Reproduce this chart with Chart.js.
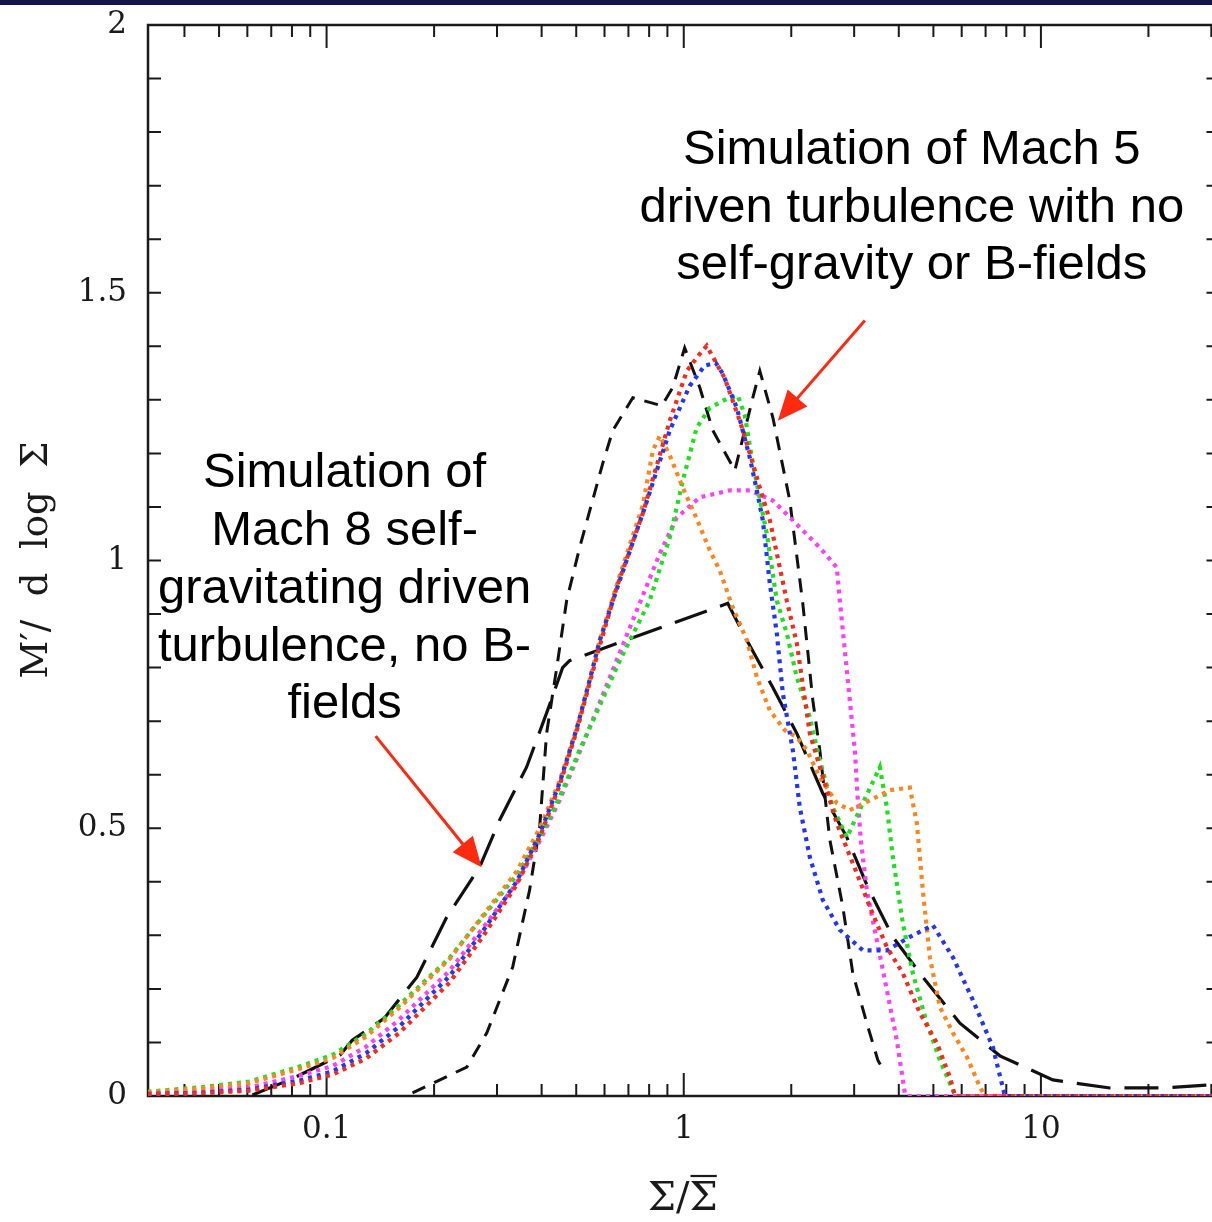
<!DOCTYPE html>
<html>
<head>
<meta charset="utf-8">
<script src="https://cdn.jsdelivr.net/npm/chart.js@4/dist/chart.umd.min.js"></script>
<style>
  html, body { margin: 0; padding: 0; background: #fff; overflow: hidden; }
  #band { position: absolute; left: 0; top: 0; width: 100%; height: 5px; background: #13164d; z-index: 2; }
  #sigma_chart { position: absolute; left: 0; top: 0; }
</style>
</head>
<body>
<div id="band"></div>
<canvas id="sigma_chart" width="1240" height="1222"></canvas>
<script>
// column density PDFs, x = Sigma / mean Sigma, y = M' / d log Sigma
const m8_sigma = [0.062, 0.080, 0.109, 0.118, 0.145, 0.179, 0.217, 0.268, 0.305, 0.363, 0.413, 0.458, 0.479, 1.328, 1.502, 1.776, 2.073, 2.451, 2.862, 3.276, 3.849, 4.671, 5.932, 7.677, 10.8, 15.6, 22.0, 30.1]
const m8_mass  = [0.002, 0.032, 0.076, 0.104, 0.145, 0.222, 0.334, 0.427, 0.515, 0.614, 0.715, 0.800, 0.813, 0.920, 0.851, 0.763, 0.677, 0.565, 0.483, 0.390, 0.297, 0.222, 0.136, 0.075, 0.030, 0.015, 0.015, 0.021]

const m5_sigma = [0.174, 0.247, 0.281, 0.332, 0.370, 0.395, 0.413, 0.441, 0.470, 0.511, 0.593, 0.633, 0.720, 0.868, 0.931, 1.006, 1.109, 1.206, 1.390, 1.482, 1.561, 1.633, 1.776, 1.981, 2.154, 2.298, 2.404, 2.565, 2.789, 2.974, 3.255, 3.495, 3.656]
const m5_mass  = [0.006, 0.054, 0.118, 0.241, 0.384, 0.502, 0.677, 0.800, 0.925, 1.024, 1.181, 1.243, 1.304, 1.289, 1.323, 1.397, 1.323, 1.243, 1.168, 1.243, 1.304, 1.354, 1.267, 1.112, 0.920, 0.739, 0.646, 0.478, 0.353, 0.229, 0.136, 0.067, 0.043]

const red_sigma = [0.0315, 0.0441, 0.0608, 0.084, 0.104, 0.129, 0.160, 0.221, 0.274, 0.341, 0.395, 0.449, 0.502, 0.545, 0.582, 0.649, 0.768, 0.914, 1.020, 1.109, 1.160, 1.303, 1.435, 1.531, 1.633, 1.742, 1.943, 2.073, 2.254, 2.683, 3.052, 3.319, 3.704, 4.106, 4.582, 5.113, 5.562, 5.744, 31.6]
const red_mass  = [0.003, 0.005, 0.010, 0.024, 0.040, 0.070, 0.118, 0.212, 0.298, 0.395, 0.483, 0.580, 0.683, 0.771, 0.841, 0.950, 1.088, 1.261, 1.354, 1.386, 1.401, 1.340, 1.261, 1.200, 1.136, 1.075, 0.925, 0.845, 0.677, 0.509, 0.416, 0.353, 0.278, 0.229, 0.155, 0.099, 0.035, 0, 0]

const blue_sigma = [0.0315, 0.0441, 0.0608, 0.084, 0.104, 0.129, 0.160, 0.221, 0.274, 0.341, 0.395, 0.449, 0.502, 0.545, 0.582, 0.662, 0.778, 0.914, 1.039, 1.145, 1.229, 1.286, 1.408, 1.531, 1.602, 1.665, 1.742, 1.822, 1.894, 2.020, 2.113, 2.254, 2.451, 2.735, 3.173, 3.704, 4.296, 4.983, 5.670, 6.450, 7.338, 7.928, 31.6]
const blue_mass  = [0.004, 0.006, 0.012, 0.029, 0.046, 0.080, 0.130, 0.224, 0.308, 0.401, 0.489, 0.584, 0.687, 0.776, 0.851, 0.963, 1.099, 1.243, 1.326, 1.364, 1.369, 1.349, 1.285, 1.192, 1.131, 1.075, 0.957, 0.864, 0.752, 0.646, 0.539, 0.446, 0.366, 0.310, 0.272, 0.272, 0.297, 0.319, 0.259, 0.179, 0.091, 0, 0]

const green_sigma = [0.0315, 0.0441, 0.0608, 0.084, 0.104, 0.129, 0.160, 0.221, 0.274, 0.341, 0.395, 0.449, 0.511, 0.582, 0.662, 0.729, 0.803, 0.914, 0.994, 1.087, 1.183, 1.320, 1.417, 1.482, 1.561, 1.708, 1.822, 1.943, 2.073, 2.254, 2.404, 2.615, 2.862, 3.173, 3.540, 3.704, 3.849, 4.106, 4.380, 4.793, 5.213, 5.670, 5.781, 31.6]
const green_mass  = [0.008, 0.016, 0.027, 0.055, 0.077, 0.116, 0.170, 0.258, 0.335, 0.413, 0.483, 0.558, 0.646, 0.729, 0.813, 0.869, 0.925, 1.043, 1.149, 1.248, 1.285, 1.302, 1.308, 1.271, 1.181, 1.050, 0.925, 0.864, 0.782, 0.707, 0.627, 0.539, 0.483, 0.547, 0.614, 0.539, 0.446, 0.323, 0.229, 0.136, 0.067, 0.011, 0, 0]

const magenta_sigma = [0.0315, 0.0441, 0.0608, 0.084, 0.104, 0.129, 0.160, 0.221, 0.274, 0.341, 0.395, 0.449, 0.511, 0.582, 0.662, 0.739, 0.857, 0.956, 1.109, 1.346, 1.531, 1.776, 2.020, 2.404, 2.683, 2.735, 2.825, 2.917, 3.013, 3.072, 3.132, 3.255, 3.472, 3.704, 3.950, 4.159, 4.213, 31.6]
const magenta_mass  = [0.005, 0.009, 0.016, 0.038, 0.056, 0.092, 0.143, 0.234, 0.314, 0.398, 0.476, 0.552, 0.642, 0.735, 0.828, 0.907, 1.013, 1.080, 1.118, 1.131, 1.131, 1.112, 1.075, 1.024, 0.987, 0.925, 0.832, 0.739, 0.646, 0.552, 0.478, 0.384, 0.291, 0.198, 0.104, 0.006, 0, 0]

const orange_sigma = [0.0315, 0.0441, 0.0608, 0.084, 0.104, 0.129, 0.160, 0.221, 0.274, 0.341, 0.395, 0.449, 0.502, 0.545, 0.582, 0.662, 0.768, 0.819, 0.857, 0.914, 0.994, 1.087, 1.183, 1.262, 1.372, 1.502, 1.602, 1.742, 1.919, 2.073, 2.211, 2.404, 2.683, 2.917, 3.319, 3.776, 4.296, 4.494, 4.671, 4.887, 5.213, 5.670, 6.206, 6.747, 6.968, 31.6]
const orange_mass  = [0.007, 0.014, 0.024, 0.051, 0.071, 0.111, 0.165, 0.256, 0.337, 0.420, 0.500, 0.588, 0.687, 0.776, 0.851, 0.972, 1.103, 1.205, 1.233, 1.196, 1.136, 1.078, 1.019, 0.981, 0.912, 0.851, 0.782, 0.720, 0.683, 0.670, 0.646, 0.595, 0.547, 0.534, 0.552, 0.571, 0.576, 0.509, 0.384, 0.259, 0.166, 0.118, 0.073, 0.017, 0, 0]

const x_tick_labels = [0.1, 1, 10]
const y_tick_labels = [0, 0.5, 1, 1.5, 2]

// callouts: text lines centred on (x, y) data positions, arrows from -> to
const note_mach5 = ['Simulation of Mach 5', 'driven turbulence with no', 'self-gravity or B-fields']
const note_mach5_x = 4.35
const note_mach5_y = [1.765, 1.657, 1.550]
const note_mach8 = ['Simulation of', 'Mach 8 self-', 'gravitating driven', 'turbulence, no B-', 'fields']
const note_mach8_x = 0.1123
const note_mach8_y = [1.162, 1.054, 0.946, 0.838, 0.731]
const arrow_mach5 = [[3.214, 1.448], [1.834, 1.261]]
const arrow_mach8 = [[0.1372, 0.672], [0.2717, 0.427]]

const pts = (xs, ys) => xs.map((x, i) => ({x: x, y: ys[i]}))
const serif = "'DejaVu Serif', serif"

function dotted(label, xs, ys, color) {
    return {label: label, data: pts(xs, ys), borderColor: color, borderWidth: 4.2,
            borderDash: [4, 5], borderCapStyle: 'butt', pointRadius: 0, tension: 0, fill: false}
}

// box with inward ticks on all four sides
const boxTicks = {
    id: 'boxTicks',
    beforeDatasetsDraw(chart) {
        const {ctx, chartArea: a, scales: {x, y}} = chart
        ctx.save()
        ctx.strokeStyle = '#1a1a1a'
        ctx.lineWidth = 2.5
        ctx.strokeRect(a.left, a.top, a.right - a.left, a.bottom - a.top)
        ctx.lineWidth = 2
        ctx.beginPath()
        for (let d = 0.01; d < 100; d *= 10) {
            for (let m = 1; m < 10; m++) {
                const v = m * d
                if (v < x.min || v > x.max) continue
                const px = x.getPixelForValue(v)
                const len = m === 1 ? 23 : 12
                ctx.moveTo(px, a.bottom); ctx.lineTo(px, a.bottom - len)
                ctx.moveTo(px, a.top); ctx.lineTo(px, a.top + len)
            }
        }
        for (let k = 1; k < 20; k++) {
            const py = y.getPixelForValue(k / 10)
            ctx.moveTo(a.left, py); ctx.lineTo(a.left + 13, py)
            ctx.moveTo(a.right, py); ctx.lineTo(a.right - 13, py)
        }
        ctx.stroke()
        ctx.restore()
    }
}

function arrow(ctx, x0, y0, x1, y1) {
    const ang = Math.atan2(y1 - y0, x1 - x0)
    const c = Math.cos(ang), s = Math.sin(ang)
    const L = 30, W = 13
    ctx.beginPath()
    ctx.moveTo(x0, y0)
    ctx.lineTo(x1 - L * 0.7 * c, y1 - L * 0.7 * s)
    ctx.stroke()
    ctx.beginPath()
    ctx.moveTo(x1, y1)
    ctx.lineTo(x1 - L * c - W * s, y1 - L * s + W * c)
    ctx.lineTo(x1 - L * c + W * s, y1 - L * s - W * c)
    ctx.closePath()
    ctx.fill()
}

const callouts = {
    id: 'callouts',
    afterDraw(chart) {
        const {ctx, chartArea: a, scales: {x, y}} = chart
        ctx.save()
        // axis titles
        ctx.fillStyle = '#1a1a1a'
        ctx.font = '40px ' + serif
        ctx.textAlign = 'center'
        ctx.textBaseline = 'middle'
        const tx = (a.left + a.right) / 2 - 1, ty = a.bottom + 104
        ctx.fillText('Σ/Σ', tx, ty)
        const w = ctx.measureText('Σ/Σ').width, ws = ctx.measureText('Σ').width
        // bar over the mean
        ctx.strokeStyle = '#1a1a1a'
        ctx.lineWidth = 2.2
        ctx.beginPath()
        ctx.moveTo(tx + w / 2 - ws + 1, ty - 24)
        ctx.lineTo(tx + w / 2 - 1, ty - 24)
        ctx.stroke()

        ctx.save()
        ctx.translate(a.left - 111, 560)
        ctx.rotate(-Math.PI / 2)
        ctx.font = '37px ' + serif
        ctx.fillText('M′/  d  log  Σ', 0, 0)
        ctx.restore()

        // annotations
        ctx.fillStyle = '#000'
        ctx.font = "49px 'Liberation Sans', Arial, sans-serif"
        note_mach5.forEach((t, i) => ctx.fillText(t, x.getPixelForValue(note_mach5_x), y.getPixelForValue(note_mach5_y[i])))
        note_mach8.forEach((t, i) => ctx.fillText(t, x.getPixelForValue(note_mach8_x), y.getPixelForValue(note_mach8_y[i])))

        ctx.strokeStyle = '#ff2a10'
        ctx.fillStyle = '#ff2a10'
        ctx.lineWidth = 3
        for (const [p, q] of [arrow_mach5, arrow_mach8]) {
            arrow(ctx, x.getPixelForValue(p[0]), y.getPixelForValue(p[1]), x.getPixelForValue(q[0]), y.getPixelForValue(q[1]))
        }
        ctx.restore()
    }
}

let ctx = document.querySelector('#sigma_chart').getContext('2d')

let sigma_chart = new Chart(ctx, {
    type: 'line',
    data: {
        datasets: [
            dotted('red', red_sigma, red_mass, '#f52a20'),
            dotted('blue', blue_sigma, blue_mass, '#2436f5'),
            dotted('orange', orange_sigma, orange_mass, '#ff8520'),
            dotted('green', green_sigma, green_mass, '#1ee01e'),
            dotted('magenta', magenta_sigma, magenta_mass, '#ff40ff'),
            {label: 'Mach 5', data: pts(m5_sigma, m5_mass), borderColor: '#111', borderWidth: 3,
             borderDash: [14, 10], pointRadius: 0, tension: 0, fill: false},
            {label: 'Mach 8', data: pts(m8_sigma, m8_mass), borderColor: '#111', borderWidth: 3.2,
             borderDash: [34, 14], pointRadius: 0, tension: 0, fill: false}
        ]
    },
    options: {
        responsive: false,
        animation: false,
        layout: {padding: {top: 25, right: 20.5, left: 0, bottom: 0}},
        plugins: {legend: {display: false}, tooltip: {enabled: false}},
        scales: {
            x: {
                type: 'logarithmic',
                min: Math.pow(10, -1.5),
                max: Math.pow(10, 1.5),
                afterBuildTicks: s => { s.ticks = x_tick_labels.map(v => ({value: v})) },
                afterFit: s => { s.height = 126; s.paddingLeft = 0; s.paddingRight = 0 },
                grid: {display: false, drawTicks: false},
                border: {display: false},
                ticks: {autoSkip: false, maxRotation: 0, padding: 15, color: '#1a1a1a',
                        font: {family: serif, size: 31}, callback: v => String(v)}
            },
            y: {
                min: 0,
                max: 2,
                afterBuildTicks: s => { s.ticks = y_tick_labels.map(v => ({value: v})) },
                afterFit: s => { s.width = 148; s.paddingTop = 0; s.paddingBottom = 0 },
                grid: {display: false, drawTicks: false},
                border: {display: false},
                ticks: {padding: 21, color: '#1a1a1a', font: {family: serif, size: 31}, callback: v => String(v)}
            }
        }
    },
    plugins: [boxTicks, callouts]
})
</script>
</body>
</html>
